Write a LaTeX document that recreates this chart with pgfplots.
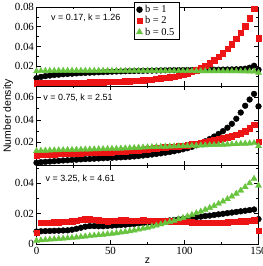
\documentclass[border=0pt]{standalone}
\usepackage{fontspec}
\setmainfont{Liberation Serif}
\newfontfamily\helv{Liberation Sans}
\usepackage{pgfplots}
\usepackage{pgfplotstable}
\pgfplotsset{compat=1.18}
\definecolor{cred}{RGB}{236,20,20}
\definecolor{cgreen}{RGB}{104,196,62}

\pgfplotstableread{
z b1 b2 b05
0 0.0080 0.0030 0.0150
3 0.0092 0.0030 0.0152
6 0.0100 0.0031 0.0153
9 0.0106 0.0031 0.0154
12 0.0111 0.0032 0.0154
15 0.0115 0.0032 0.0155
18 0.0119 0.0033 0.0155
21 0.0122 0.0033 0.0155
24 0.0125 0.0034 0.0155
27 0.0128 0.0034 0.0155
30 0.0131 0.0035 0.0155
33 0.0133 0.0036 0.0155
36 0.0135 0.0037 0.0155
39 0.0137 0.0038 0.0155
42 0.0139 0.0039 0.0155
45 0.0141 0.0040 0.0155
48 0.0143 0.0041 0.0154
51 0.0145 0.0042 0.0154
54 0.0147 0.0043 0.0154
57 0.0148 0.0045 0.0154
60 0.0150 0.0047 0.0154
63 0.0151 0.0049 0.0154
66 0.0152 0.0052 0.0154
69 0.0153 0.0055 0.0154
72 0.0154 0.0058 0.0153
75 0.0155 0.0062 0.0153
78 0.0156 0.0066 0.0153
81 0.0157 0.0071 0.0153
84 0.0158 0.0077 0.0153
87 0.0159 0.0083 0.0153
90 0.0160 0.0090 0.0153
93 0.0160 0.0097 0.0152
96 0.0161 0.0105 0.0152
99 0.0161 0.0115 0.0152
102 0.0162 0.0127 0.0152
105 0.0162 0.0142 0.0152
108 0.0163 0.0160 0.0151
111 0.0163 0.0182 0.0151
114 0.0164 0.0205 0.0151
117 0.0164 0.0232 0.0151
120 0.0165 0.0262 0.0151
123 0.0165 0.0295 0.0150
126 0.0166 0.0332 0.0150
129 0.0167 0.0375 0.0150
132 0.0168 0.0425 0.0150
135 0.0169 0.0480 0.0150
138 0.0171 0.0540 0.0149
141 0.0175 0.0605 0.0149
144 0.0185 0.0685 0.0148
147 0.0205 0.0780 0.0148
150 0.0165 0.0485 0.0135
}\toptab

\pgfplotstableread{
z b1 b2 b05
0 0.0020 0.0088 0.0125
3 0.0025 0.0090 0.0127
6 0.0028 0.0092 0.0128
9 0.0031 0.0094 0.0130
12 0.0034 0.0096 0.0131
15 0.0037 0.0098 0.0132
18 0.0040 0.0100 0.0133
21 0.0042 0.0101 0.0134
24 0.0045 0.0103 0.0135
27 0.0047 0.0104 0.0136
30 0.0050 0.0106 0.0137
33 0.0052 0.0107 0.0138
36 0.0054 0.0108 0.0139
39 0.0056 0.0110 0.0140
42 0.0058 0.0111 0.0141
45 0.0060 0.0112 0.0142
48 0.0062 0.0113 0.0143
51 0.0064 0.0115 0.0144
54 0.0066 0.0117 0.0145
57 0.0068 0.0119 0.0146
60 0.0070 0.0122 0.0148
63 0.0073 0.0125 0.0150
66 0.0076 0.0128 0.0152
69 0.0080 0.0132 0.0154
72 0.0084 0.0136 0.0156
75 0.0088 0.0140 0.0158
78 0.0093 0.0144 0.0160
81 0.0098 0.0148 0.0161
84 0.0103 0.0152 0.0162
87 0.0109 0.0156 0.0163
90 0.0115 0.0160 0.0165
93 0.0122 0.0163 0.0166
96 0.0130 0.0166 0.0167
99 0.0139 0.0170 0.0168
102 0.0149 0.0176 0.0170
105 0.0161 0.0183 0.0171
108 0.0175 0.0190 0.0172
111 0.0192 0.0198 0.0174
114 0.0210 0.0205 0.0175
117 0.0230 0.0213 0.0177
120 0.0252 0.0221 0.0178
123 0.0275 0.0229 0.0180
126 0.0300 0.0237 0.0181
129 0.0330 0.0246 0.0183
132 0.0365 0.0256 0.0184
135 0.0410 0.0268 0.0186
138 0.0465 0.0282 0.0188
141 0.0525 0.0300 0.0190
144 0.0580 0.0325 0.0192
147 0.0630 0.0355 0.0195
150 0.0520 0.0205 0.0168
}\midtab

\pgfplotstableread{
z b1 b2 b05
0 0.0082 0.0076 0.0022
3 0.0084 0.0140 0.0025
6 0.0085 0.0141 0.0027
9 0.0086 0.0142 0.0030
12 0.0087 0.0143 0.0032
15 0.0088 0.0144 0.0034
18 0.0089 0.0146 0.0036
21 0.0090 0.0148 0.0038
24 0.0094 0.0151 0.0041
27 0.0100 0.0155 0.0044
30 0.0107 0.0159 0.0047
33 0.0114 0.0163 0.0050
36 0.0118 0.0163 0.0053
39 0.0118 0.0160 0.0056
42 0.0117 0.0156 0.0059
45 0.0117 0.0152 0.0062
48 0.0119 0.0150 0.0065
51 0.0121 0.0152 0.0068
54 0.0123 0.0155 0.0072
57 0.0125 0.0157 0.0076
60 0.0127 0.0156 0.0080
63 0.0130 0.0155 0.0085
66 0.0132 0.0154 0.0090
69 0.0135 0.0155 0.0096
72 0.0138 0.0156 0.0102
75 0.0140 0.0155 0.0108
78 0.0143 0.0154 0.0115
81 0.0146 0.0152 0.0122
84 0.0149 0.0151 0.0130
87 0.0152 0.0150 0.0138
90 0.0155 0.0149 0.0146
93 0.0158 0.0148 0.0154
96 0.0162 0.0147 0.0163
99 0.0166 0.0146 0.0172
102 0.0170 0.0145 0.0182
105 0.0174 0.0144 0.0192
108 0.0177 0.0142 0.0203
111 0.0180 0.0141 0.0214
114 0.0184 0.0140 0.0226
117 0.0187 0.0140 0.0238
120 0.0191 0.0141 0.0251
123 0.0195 0.0142 0.0265
126 0.0199 0.0142 0.0280
129 0.0203 0.0143 0.0296
132 0.0207 0.0145 0.0313
135 0.0211 0.0147 0.0332
138 0.0215 0.0149 0.0352
141 0.0219 0.0151 0.0375
144 0.0223 0.0154 0.0400
147 0.0227 0.0158 0.0430
150 0.0164 0.0087 0.0385
}\bottab

\pgfplotsset{
  panel/.style={
    scale only axis, width=222bp, height=79bp,
    xmin=0, xmax=150, xtick={0,50,100,150}, minor xtick={25,75,125},
    ymin=0, scaled y ticks=false, scaled x ticks=false,
    tick align=inside, major tick length=4.5bp, minor tick length=2.5bp,
    xtick pos=both, ytick pos=both,
    clip=false, axis line style={line width=0.6pt}, tick style={line width=0.5pt, black},
    ticklabel style={font=\fontsize{11}{11}\selectfont},
    /pgf/number format/assume math mode=true,
    yticklabel style={/pgf/number format/fixed, /pgf/number format/precision=2, xshift=1bp},
  },
  sb1/.style={only marks, mark=*, mark size=2.9bp, black, mark options={draw=black, fill=black}},
  sb2/.style={only marks, mark=square*, mark size=2.7bp, cred, mark options={draw=cred, fill=cred}},
  sb05/.style={only marks, mark=triangle*, mark size=3.5bp, cgreen, mark options={draw=cgreen, fill=cgreen}},
}

\begin{document}
\begin{tikzpicture}
\begin{axis}[panel, name=top, at={(0,0)}, anchor=north west,
  ymax=0.08, ytick={0.02,0.04,0.06,0.08}, minor ytick={0.01,0.03,0.05,0.07},
  xticklabels={},
  legend image code/.code={\draw[mark repeat=2,mark phase=2] plot coordinates {(0bp,0bp) (5bp,0bp) (10bp,0bp)};},
  legend style={at={(0.44,1.063)}, anchor=north west, draw=black, line width=0.6pt,
    font=\fontsize{10.5}{10.5}\selectfont, inner xsep=2pt, inner ysep=1pt, row sep=-1.5pt,
    nodes={inner xsep=2.5pt}},
  legend cell align=left]
\addplot+[sb1] table[x=z, y=b1] {\toptab};
\addlegendentry{b = 1}
\addplot+[sb2] table[x=z, y=b2] {\toptab};
\addlegendentry{b = 2}
\addplot+[sb05] table[x=z, y=b05] {\toptab};
\addlegendentry{b = 0.5}
\node[anchor=west, font=\helv\fontsize{9}{9}\selectfont] at (rel axis cs:0.05,0.86) {v = 0.17, k = 1.26};
\end{axis}

\begin{axis}[panel, name=mid, at={(top.south west)}, anchor=north west,
  ymax=0.07, ytick={0.02,0.04,0.06}, minor ytick={0.01,0.03,0.05},
  xticklabels={}]
\addplot+[sb1] table[x=z, y=b1] {\midtab};
\addplot+[sb2] table[x=z, y=b2] {\midtab};
\addplot+[sb05] table[x=z, y=b05] {\midtab};
\node[anchor=west, font=\helv\fontsize{9}{9}\selectfont] at (rel axis cs:0.015,0.85) {v = 0.75, k = 2.51};
\node[rotate=90, anchor=center, font=\helv\fontsize{10.5}{10.5}\selectfont] at (rel axis cs:-0.128,0.62) {Number density};
\end{axis}

\begin{axis}[panel, name=bot, at={(mid.south west)}, anchor=north west,
  ymax=0.052, ytick={0,0.02,0.04}, minor ytick={0.01,0.03,0.05},
  xlabel={z}, xlabel style={font=\helv\fontsize{10.5}{10.5}\selectfont, yshift=4bp}]
\addplot+[sb1] table[x=z, y=b1] {\bottab};
\addplot+[sb2] table[x=z, y=b2] {\bottab};
\addplot+[sb05] table[x=z, y=b05] {\bottab};
\node[anchor=west, font=\helv\fontsize{9}{9}\selectfont] at (rel axis cs:0.025,0.82) {v = 3.25, k = 4.61};
\end{axis}

\pgfresetboundingbox
\path (top.north west) ++(-36.5bp,7bp) coordinate (bbA);
\path (bot.south west) ++(226.5bp,-22bp) coordinate (bbB);
\path[use as bounding box] (bbA) rectangle (bbB);
\end{tikzpicture}
\end{document}
